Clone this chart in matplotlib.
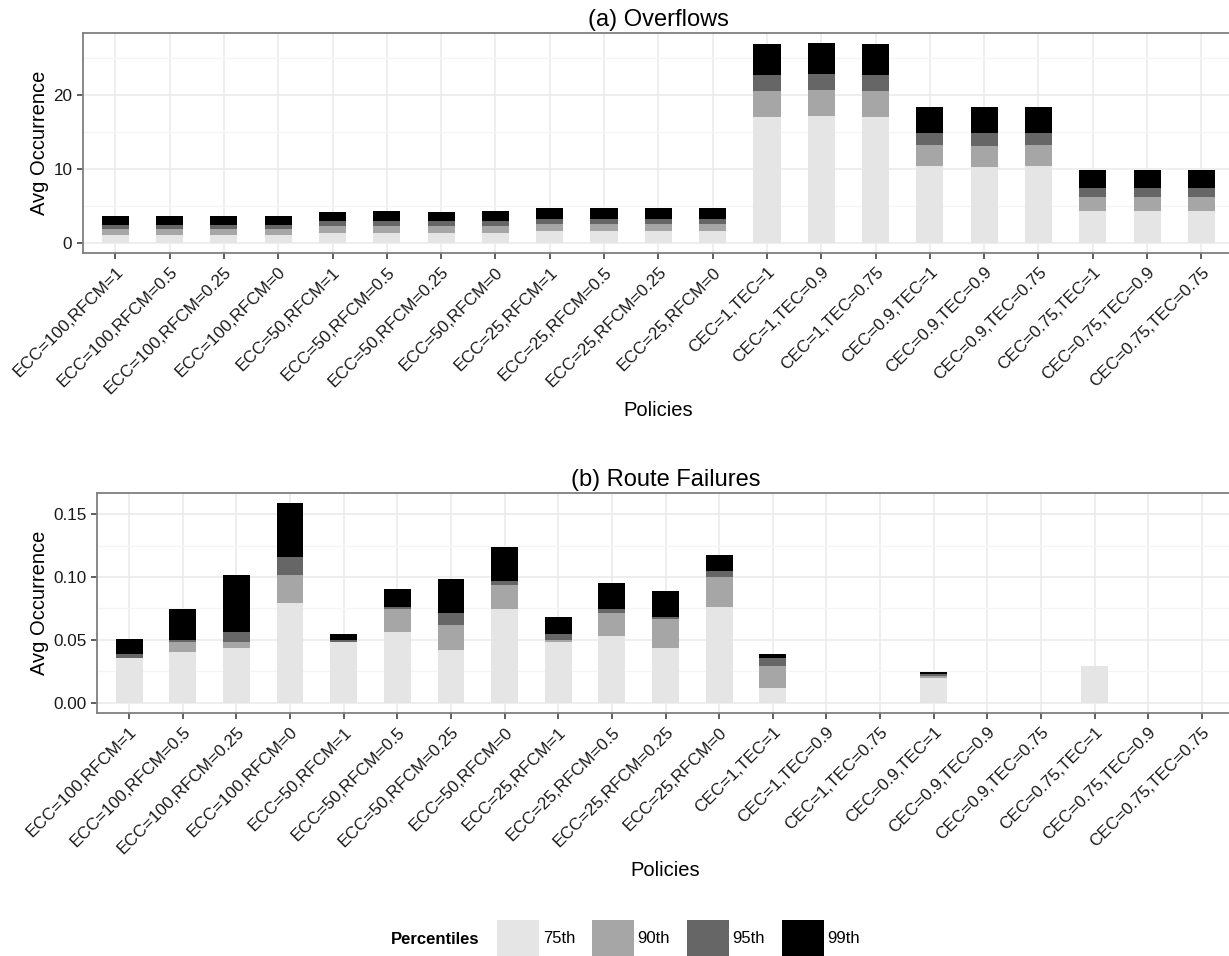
import matplotlib
matplotlib.use('Agg')
import matplotlib.pyplot as plt
import matplotlib.transforms as mtransforms
from matplotlib.patches import Patch
from matplotlib.ticker import FormatStrFormatter, MultipleLocator
import numpy as np

plt.rcParams['font.family'] = ['Liberation Sans', 'DejaVu Sans']

# Data
policies = ['ECC=100,RFCM=1', 'ECC=100,RFCM=0.5', 'ECC=100,RFCM=0.25', 'ECC=100,RFCM=0',
            'ECC=50,RFCM=1', 'ECC=50,RFCM=0.5', 'ECC=50,RFCM=0.25', 'ECC=50,RFCM=0',
            'ECC=25,RFCM=1', 'ECC=25,RFCM=0.5', 'ECC=25,RFCM=0.25', 'ECC=25,RFCM=0',
            'CEC=1,TEC=1', 'CEC=1,TEC=0.9', 'CEC=1,TEC=0.75',
            'CEC=0.9,TEC=1', 'CEC=0.9,TEC=0.9', 'CEC=0.9,TEC=0.75',
            'CEC=0.75,TEC=1', 'CEC=0.75,TEC=0.9', 'CEC=0.75,TEC=0.75']

percentiles = ['75th', '90th', '95th', '99th']
colors = ['#E5E5E5', '#A6A6A6', '#666666', '#000000']

overflow_p75 = [1.03, 1.03, 1.03, 1.03, 1.30, 1.30, 1.30, 1.30, 1.57, 1.57, 1.57, 1.57,
                17.04, 17.17, 17.04, 10.45, 10.31, 10.45, 4.26, 4.26, 4.26]
overflow_p90 = [1.84, 1.84, 1.84, 1.84, 2.20, 2.20, 2.20, 2.20, 2.51, 2.51, 2.51, 2.51,
                20.54, 20.67, 20.54, 13.27, 13.14, 13.27, 6.14, 6.14, 6.14]
overflow_p95 = [2.38, 2.38, 2.38, 2.38, 2.91, 2.91, 2.91, 2.91, 3.18, 3.18, 3.18, 3.18,
                22.69, 22.83, 22.69, 14.89, 14.89, 14.89, 7.35, 7.35, 7.35]
overflow_p99 = [3.59, 3.59, 3.59, 3.59, 4.13, 4.26, 4.13, 4.26, 4.66, 4.66, 4.66, 4.66,
                26.86, 27.0, 26.86, 18.39, 18.39, 18.39, 9.78, 9.78, 9.78]

failure_p75 = [0.0353, 0.0401, 0.0432, 0.0796, 0.0480, 0.0559, 0.0416, 0.0749, 0.0480, 0.0527,
               0.0432, 0.0764, 0.0116, 0, 0, 0.0195, 0, 0, 0.029, 0, 0]
failure_p90 = [0.0353, 0.0480, 0.0480, 0.1017, 0.0485, 0.0749, 0.0622, 0.0938, 0.0496, 0.0717,
               0.0670, 0.1002, 0.0290, 0, 0, 0.0211, 0, 0, 0.029, 0, 0]
failure_p95 = [0.0385, 0.0496, 0.0559, 0.1160, 0.0496, 0.0764, 0.0717, 0.0970, 0.0543, 0.0749,
               0.0685, 0.1049, 0.0353, 0, 0, 0.0227, 0, 0, 0.029, 0, 0]
failure_p99 = [0.0511, 0.0749, 0.1017, 0.1587, 0.0543, 0.0907, 0.0986, 0.1239, 0.0685, 0.0954,
               0.0891, 0.1176, 0.0385, 0, 0, 0.0242, 0, 0, 0.029, 0, 0]

W, H = 1229, 956
fig = plt.figure(figsize=(W / 100, H / 100), dpi=100)


def px_axes(left, right, top, bottom):
    return fig.add_axes([left / W, 1 - bottom / H, (right - left) / W, (bottom - top) / H])


def draw_panel(ax, series, title, major, minor, fmt):
    x = np.arange(len(policies))
    # overlapping bars: tallest percentile first, smallest drawn on top
    for vals, col in reversed(list(zip(series, colors))):
        ax.bar(x, vals, width=0.5, color=col, linewidth=0, zorder=3)

    ymax = max(series[-1])
    ax.set_xlim(-0.6, len(policies) - 0.4)
    ax.set_ylim(-0.05 * ymax, 1.05 * ymax)

    ax.set_xticks(x)
    ax.set_xticklabels(policies, rotation=45, ha='right', va='top',
                       rotation_mode='anchor', fontsize=12.3, color='#1a1a1a')
    offset = mtransforms.ScaledTranslation(5 / 100, -2 / 100, fig.dpi_scale_trans)
    for lab in ax.get_xticklabels():
        lab.set_transform(lab.get_transform() + offset)

    ax.yaxis.set_major_locator(MultipleLocator(major))
    ax.yaxis.set_minor_locator(MultipleLocator(minor))
    ax.yaxis.set_major_formatter(FormatStrFormatter(fmt))
    ax.tick_params(axis='y', which='major', labelsize=12.3, labelcolor='#1a1a1a',
                   length=4.5, width=1.1, color='#333333', pad=3)
    ax.tick_params(axis='x', which='major', length=4.5, width=1.1, color='#333333', pad=4)
    ax.tick_params(axis='y', which='minor', length=0)

    ax.grid(True, which='major', color='#EBEBEB', linewidth=1.2, zorder=0)
    ax.grid(True, which='minor', axis='y', color='#F5F5F5', linewidth=1.0, zorder=0)
    ax.set_axisbelow(True)
    for sp in ax.spines.values():
        sp.set_color('#7F7F7F')
        sp.set_linewidth(1.3)

    ax.set_title(title, fontsize=17, pad=5)
    ax.set_xlabel('Policies', fontsize=14.5)
    ax.set_ylabel('Avg Occurrence', fontsize=14.5)


ax1 = px_axes(82.7, 1234, 33.3, 252.7)
draw_panel(ax1, [overflow_p75, overflow_p90, overflow_p95, overflow_p99],
           '(a) Overflows', 10, 5, '%d')
ax1.xaxis.set_label_coords(0.5, -0.676)
ax1.yaxis.set_label_coords((49 - 82.7) / (1234 - 82.7), 0.5)

ax2 = px_axes(97, 1234, 493.3, 712.7)
draw_panel(ax2, [failure_p75, failure_p90, failure_p95, failure_p99],
           '(b) Route Failures', 0.05, 0.025, '%.2f')
ax2.xaxis.set_label_coords(0.5, -0.676)
ax2.yaxis.set_label_coords((49 - 97) / (1234 - 97), 0.5)

# legend along the bottom
fig.text(391 / W, 1 - 940 / H, 'Percentiles', fontsize=12, fontweight='bold',
         ha='left', va='center')
handles = [Patch(facecolor=c, edgecolor='none') for c in colors]
fig.legend(handles, percentiles, loc='center left', bbox_to_anchor=(497 / W, 1 - 938 / H),
           ncol=4, frameon=False, fontsize=12, borderpad=0, borderaxespad=0,
           handlelength=2.5, handleheight=3.0, handletextpad=0.25, columnspacing=1.0)

plt.savefig('out.png', dpi=100)
